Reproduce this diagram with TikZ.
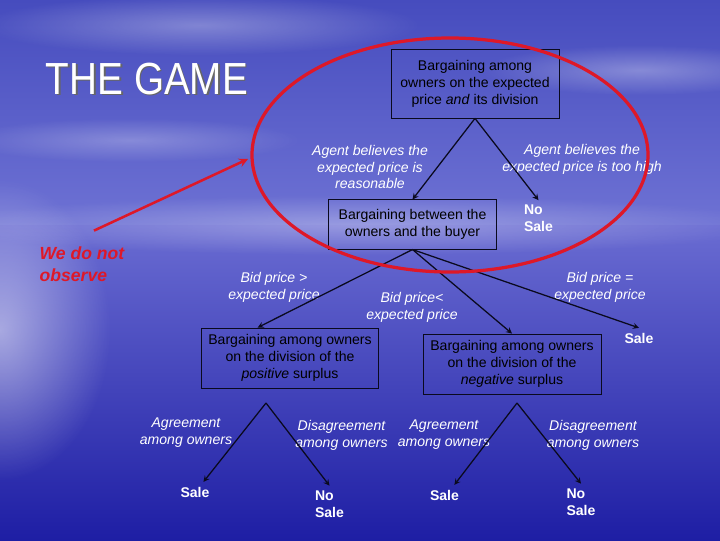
\documentclass[tikz,border=0pt]{standalone}
\usepackage{fontspec}
\setmainfont{Liberation Sans}
\newfontfamily\titlefont[FakeStretch=0.86]{Liberation Sans}
\usetikzlibrary{fadings}
\tikzfading[name=softglow,inner color=transparent!0,outer color=transparent!100]
\definecolor{skytop}{RGB}{70,76,190}
\definecolor{skylow}{RGB}{110,114,212}
\definecolor{seatop}{RGB}{106,108,210}
\definecolor{seadeep}{RGB}{30,30,164}
\definecolor{markred}{RGB}{222,24,40}
\definecolor{inkline}{RGB}{10,10,30}

\begin{document}
\begin{tikzpicture}[x=0.025cm,y=-0.025cm,>=stealth,
    box/.style={draw=inkline,line width=0.6pt,align=center,inner sep=0pt,font=\fontsize{10}{12}\selectfont},
    lbl/.style={text=white,align=center,font=\fontsize{10}{12}\selectfont\itshape},
    outc/.style={text=white,align=left,font=\fontsize{10}{12}\selectfont\bfseries},
    move/.style={->,line width=0.9pt,draw=inkline}]
  \useasboundingbox (0,0) rectangle (720,540);
  \shade[top color=skytop,bottom color=skylow] (0,0) rectangle (720,225);
  \shade[top color=seatop,bottom color=seadeep] (0,225) rectangle (720,540);
  \fill[white,opacity=0.3,path fading=softglow] (360,225) ellipse (420 and 30);
  \fill[white,opacity=0.5,path fading=softglow] (0,330) ellipse (110 and 150);
  \fill[white,opacity=0.3,path fading=softglow] (200,25) ellipse (220 and 30);
  \fill[white,opacity=0.3,path fading=softglow] (640,70) ellipse (160 and 25);
  \fill[white,opacity=0.25,path fading=softglow] (130,140) ellipse (170 and 22);

  \node[text=black!60,font=\titlefont\fontsize{32}{36}\selectfont] at (148.5,80.5) {THE GAME};
  \node[text=white,font=\titlefont\fontsize{32}{36}\selectfont] (title) at (147,79) {THE GAME};

  \node[box,minimum width=119.5pt,minimum height=49pt] (bargA) at (475,83.5) {Bargaining among\\owners on the expected\\price \emph{and} its division};
  \node[box,minimum width=119pt,minimum height=35pt] (bargB) at (412.5,224.5) {Bargaining between the\\owners and the buyer};
  \node[box,minimum width=126pt,minimum height=42.7pt] (bargC) at (290,358) {Bargaining among owners\\on the division of the\\\emph{positive} surplus};
  \node[box,minimum width=126.6pt,minimum height=42.7pt] (bargD) at (512,364) {Bargaining among owners\\on the division of the\\\emph{negative} surplus};

  \node[lbl] (believeA) at (370,167) {Agent believes the\\expected price is\\reasonable};
  \node[lbl] (believeB) at (582,159.5) {Agent believes the\\expected price is too high};
  \node[outc] (nosaleA) at (538.5,218.5) {No\\Sale};
  \node[lbl] (bidHigh) at (274,287) {Bid price >\\expected price};
  \node[lbl] (bidLow) at (412,307.5) {Bid price<\\expected price};
  \node[lbl] (bidEq) at (600,287) {Bid price =\\expected price};
  \node[outc] (saleA) at (639,338) {Sale};
  \node[lbl] (agreeA) at (186,432.5) {Agreement\\among owners};
  \node[lbl] (disagreeA) at (341.5,435) {Disagreement\\among owners};
  \node[lbl] (agreeB) at (444,435) {Agreement\\among owners};
  \node[lbl] (disagreeB) at (593,435) {Disagreement\\among owners};
  \node[outc] (saleB) at (195,492) {Sale};
  \node[outc] (nosaleB) at (329.5,504) {No\\Sale};
  \node[outc] (saleC) at (444.5,495) {Sale};
  \node[outc] (nosaleC) at (581,502) {No\\Sale};

  \coordinate (splitC) at (266,403);
  \coordinate (splitD) at (517,403);
  \draw[move] (bargA.south) -- (bargB.north);
  \draw[move] (bargA.south) -- (nosaleA.north);
  \draw[move] (bargB.south) -- ([xshift=-23pt]bargC.north);
  \draw[move] (bargB.south) -- (bargD.north);
  \draw[move] (bargB.south) -- (saleA.north);
  \draw[move] (splitC) -- ([xshift=6pt]saleB.north);
  \draw[move] (splitC) -- (nosaleB.north);
  \draw[move] (splitD) -- ([xshift=7pt]saleC.north);
  \draw[move] (splitD) -- (nosaleC.north);

  \draw[markred,line width=2.3pt] (450,155) ellipse (198 and 117);
  \node[text=markred,align=left,font=\fontsize{12.5}{15.6}\selectfont\bfseries\itshape] (notSeen) at (82,264) {We do not\\observe};
  \coordinate (circleEdge) at (248,159);
  \draw[->,markred,line width=1.8pt] ([shift={(12,-11)}]notSeen.north) -- (circleEdge);
\end{tikzpicture}
\end{document}
